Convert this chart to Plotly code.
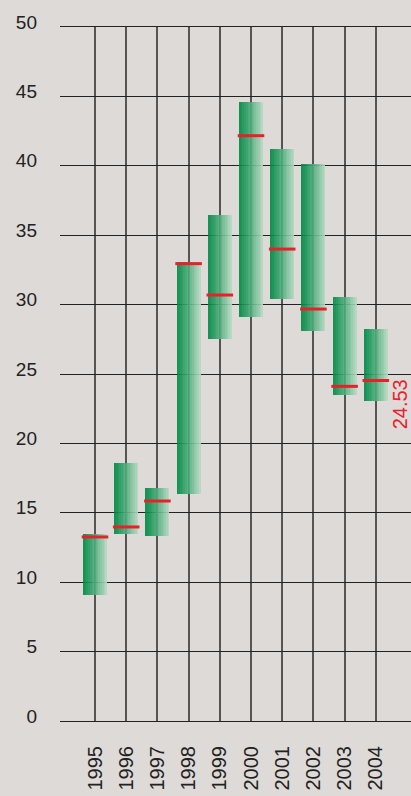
import plotly.graph_objects as go

years = ["1995", "1996", "1997", "1998", "1999", "2000", "2001", "2002", "2003", "2004"]
low = [9.08, 13.47, 13.33, 16.38, 27.52, 29.11, 30.40, 28.10, 23.50, 23.08]
high = [13.45, 18.59, 16.79, 33.05, 36.45, 44.60, 41.21, 40.13, 30.55, 28.24]
mark = [13.26, 13.98, 15.85, 32.95, 30.69, 42.17, 34.00, 29.68, 24.11, 24.53]
y_ticks = [0, 5, 10, 15, 20, 25, 30, 35, 40, 45, 50]
last_label = "24.53"

xs = list(range(len(years)))
heights = [h - l for h, l in zip(high, low)]

BG = "#dedad7"
N = 14
BAR_W = 0.77
left_c = (0, 138, 70)
right_c = (178, 216, 192)

fig = go.Figure()
for i in range(N):
    t = i / (N - 1)
    t2 = t ** 1.15
    c = tuple(int(round(left_c[k] + (right_c[k] - left_c[k]) * t2)) for k in range(3))
    fig.add_trace(go.Bar(
        x=xs, y=heights, base=low,
        width=BAR_W / N, offset=-BAR_W / 2 + i * BAR_W / N,
        marker=dict(color=f"rgba({c[0]},{c[1]},{c[2]},0.9)", line=dict(width=0)),
        showlegend=False, hoverinfo="skip",
    ))

fig.add_trace(go.Scatter(
    x=xs, y=mark, mode="markers",
    marker=dict(symbol="line-ew", size=19, color="#e8202a",
                line=dict(color="#e8202a", width=3)),
    showlegend=False, hoverinfo="skip",
))

fig.add_annotation(
    x=xs[-1], y=mark[-1], xref="x", yref="y",
    text=last_label, textangle=-90, showarrow=False,
    xanchor="center", yanchor="middle", xshift=24, yshift=-24,
    font=dict(family="Liberation Sans, Arial, sans-serif", size=20, color="#e8202a"),
)

fig.update_layout(
    width=411, height=796,
    margin=dict(l=60, r=0, t=27, b=75, autoexpand=False),
    paper_bgcolor=BG, plot_bgcolor=BG,
    barmode="overlay", bargap=0,
    font=dict(family="Liberation Sans, Arial, sans-serif", color="#222222"),
)
fig.update_xaxes(
    range=[-35 / 31.2, 316 / 31.2], automargin=False,
    tickmode="array", tickvals=xs, ticktext=years,
    tickangle=-90, tickfont=dict(size=20),
    showgrid=True, gridcolor="#555555", gridwidth=1.5,
    showline=True, mirror=True, linecolor="#222222", linewidth=1,
    zeroline=False, ticks="", ticklabelstandoff=16,
)
fig.update_yaxes(
    range=[0, 50], tickmode="array", tickvals=y_ticks, automargin=False,
    tickfont=dict(size=19),
    showgrid=True, gridcolor="#222222", gridwidth=1,
    zeroline=False, showline=False, ticks="",
    ticklabelstandoff=22, ticklabelshift=-5,
)

fig.write_html(
    "out.html",
    config={"displayModeBar": False},
    post_script="document.body.style.margin='0';document.body.style.background='" + BG + "';",
)
